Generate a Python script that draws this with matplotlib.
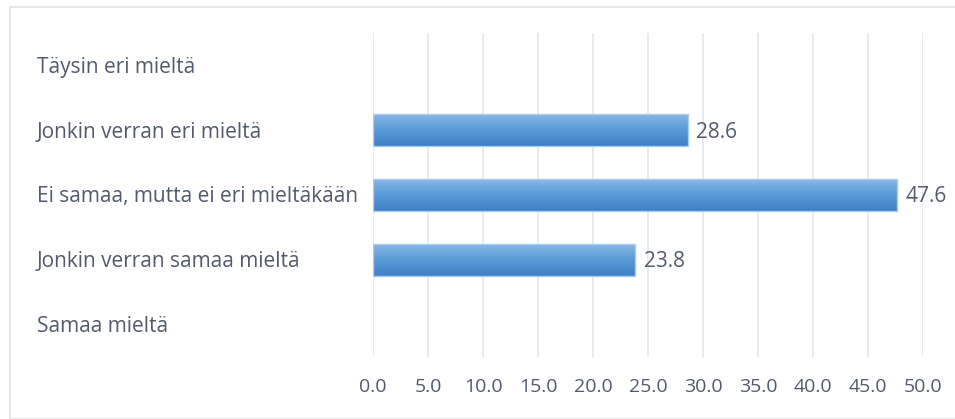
import numpy as np
import matplotlib.pyplot as plt
from matplotlib.patches import Rectangle
from matplotlib.colors import LinearSegmentedColormap
from matplotlib.transforms import blended_transform_factory

# Vastausjakauma (%)
categories = ['Täysin eri mieltä', 'Jonkin verran eri mieltä',
              'Ei samaa, mutta ei eri mieltäkään',
              'Jonkin verran samaa mieltä', 'Samaa mieltä']
values = [0.0, 28.6, 47.6, 23.8, 0.0]
xticks = np.arange(0, 50.1, 5)

text_col = '#535b6b'
plt.rcParams['font.family'] = ['Open Sans', 'DejaVu Sans']

fig = plt.figure(figsize=(9.55, 4.19), dpi=100)
W, H = 955, 419

# outer frame of the chart
fig.patches.append(Rectangle((9.5 / W, 0), 1, 1 - 7.5 / H, transform=fig.transFigure,
                             fill=False, edgecolor='#e3e3e3', linewidth=1.2))

ax = fig.add_axes([373 / W, 1 - 357 / H, (923 - 373) / W, (357 - 33) / H])
ax.set_xticks(xticks)
ax.set_xticklabels([f'{t:.1f}' for t in xticks], fontsize=14, color=text_col)
ax.tick_params(axis='x', length=0, pad=15)
ax.set_yticks([])
for s in ax.spines.values():
    s.set_visible(False)
ax.grid(axis='x', color='#e6e8ee', linewidth=1.3)
ax.set_axisbelow(True)

# gradient fill for the bars: lighter at top, darker at bottom
cmap = LinearSegmentedColormap.from_list('bar', ['#8ab9e8', '#5a9bd8', '#3f80c6'])
grad = np.linspace(0, 1, 64).reshape(-1, 1)
bar_h = 0.5
for i, v in enumerate(values):
    if v <= 0:
        continue
    rect = Rectangle((0, i - bar_h / 2), v, bar_h, facecolor='none',
                     edgecolor='#a9cbec', linewidth=1.0, zorder=3)
    ax.add_patch(rect)
    img = ax.imshow(grad, cmap=cmap, aspect='auto', zorder=2,
                    extent=(0, v, i + bar_h / 2, i - bar_h / 2))
    img.set_clip_path(rect)
    ax.text(v + 0.8, i + 0.03, f'{v:.1f}', va='center', ha='left',
            fontsize=15, color=text_col)
ax.set_xlim(0, 50)
ax.set_ylim(4.5, -0.5)

# category labels, left-aligned at the chart's left edge
lab_tr = blended_transform_factory(fig.transFigure, ax.transData)
for i, c in enumerate(categories):
    ax.text(37 / W, i + 0.03, c, transform=lab_tr,
            va='center', ha='left', fontsize=15, color=text_col)

fig.savefig('out.png', dpi=100)
